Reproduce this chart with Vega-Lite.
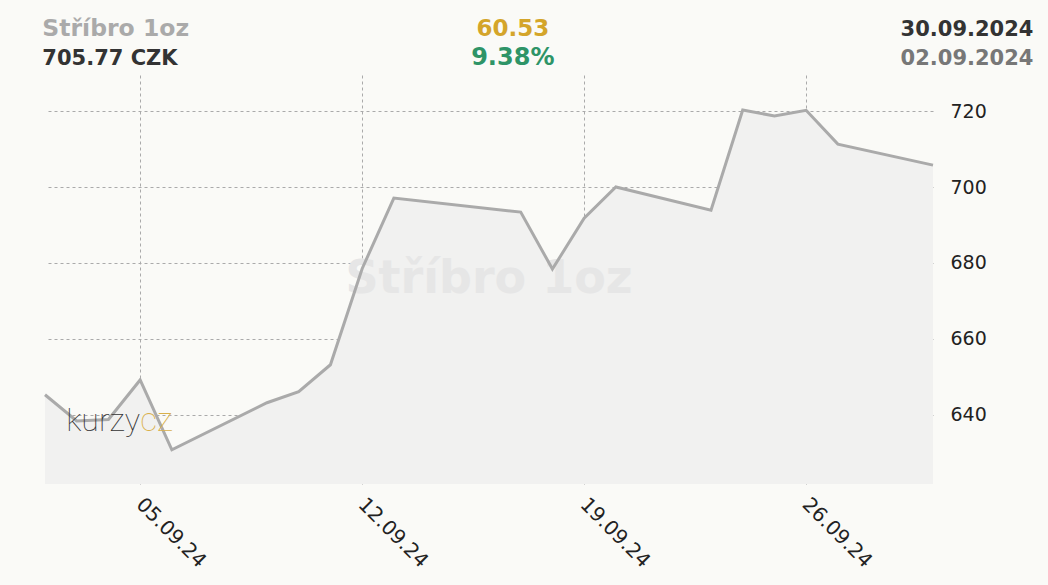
{
  "$schema": "https://vega.github.io/schema/vega-lite/v6.json",
  "width": 888,
  "height": 409,
  "autosize": {"type": "none"},
  "padding": {"left": 45, "top": 75, "right": 115, "bottom": 101},
  "background": "#fafaf7",
  "config": {
    "view": {"stroke": null},
    "font": "DejaVu Sans",
    "axis": {"labelFont": "DejaVu Sans", "labelColor": "#222", "labelFontSize": 19, "domain": false, "ticks": false, "grid": true, "gridColor": "#aaaaaa", "gridDash": [3, 3], "gridWidth": 1, "title": null}
  },
  "data": {"values": [{}]},
  "datasets": {
    "prices": [
      {"date": "2024-09-02", "price": 645.3},
      {"date": "2024-09-03", "price": 638.4},
      {"date": "2024-09-04", "price": 638.8},
      {"date": "2024-09-05", "price": 649.2},
      {"date": "2024-09-06", "price": 630.8},
      {"date": "2024-09-09", "price": 643.2},
      {"date": "2024-09-10", "price": 646.1},
      {"date": "2024-09-11", "price": 653.2},
      {"date": "2024-09-12", "price": 678.5},
      {"date": "2024-09-13", "price": 697.1},
      {"date": "2024-09-17", "price": 693.4},
      {"date": "2024-09-18", "price": 678.4},
      {"date": "2024-09-19", "price": 691.8},
      {"date": "2024-09-20", "price": 700.0},
      {"date": "2024-09-23", "price": 693.9},
      {"date": "2024-09-24", "price": 720.3},
      {"date": "2024-09-25", "price": 718.7},
      {"date": "2024-09-26", "price": 720.2},
      {"date": "2024-09-27", "price": 711.3},
      {"date": "2024-09-30", "price": 705.77}
    ]
  },
  "layer": [
    {
      "data": {"name": "prices"},
      "mark": {"type": "area", "color": "#f1f1f0"},
      "encoding": {
        "x": {"field": "date", "type": "temporal",
          "scale": {"type": "utc", "domain": [{"year": 2024, "month": 9, "date": 2, "utc": true}, {"year": 2024, "month": 9, "date": 30, "utc": true}]},
          "axis": {"orient": "bottom", "format": "%d.%m.%y", "labelAngle": 45, "labelPadding": 10, "labelOffset": 6, "labelFontSize": 20,
            "values": [{"year": 2024, "month": 9, "date": 5, "utc": true}, {"year": 2024, "month": 9, "date": 12, "utc": true}, {"year": 2024, "month": 9, "date": 19, "utc": true}, {"year": 2024, "month": 9, "date": 26, "utc": true}]}},
        "y": {"field": "price", "type": "quantitative",
          "scale": {"domain": [621.8, 729.5], "zero": false, "nice": false},
          "axis": {"orient": "right", "values": [640, 660, 680, 700, 720], "labelPadding": 17}},
        "y2": {"datum": 621.8}
      }
    },
    {
      "mark": {"type": "text", "text": "Stříbro 1oz", "font": "DejaVu Sans", "fontWeight": "bold", "fontSize": 46, "color": "#e6e6e6", "align": "center", "baseline": "middle"},
      "encoding": {
        "x": {"datum": {"year": 2024, "month": 9, "date": 16, "utc": true}, "type": "temporal"},
        "y": {"datum": 675.7, "type": "quantitative"}
      }
    },
    {
      "data": {"name": "prices"},
      "mark": {"type": "line", "color": "#aaaaaa", "strokeWidth": 3},
      "encoding": {
        "x": {"field": "date", "type": "temporal"},
        "y": {"field": "price", "type": "quantitative"}
      }
    },
    {
      "mark": {"type": "text", "text": "kurzy", "font": "Roboto", "fontWeight": 100, "fontSize": 32, "color": "#333333", "align": "right", "baseline": "alphabetic"},
      "encoding": {
        "x": {"datum": {"year": 2024, "month": 9, "date": 5, "utc": true}, "type": "temporal"},
        "y": {"datum": 635.8, "type": "quantitative"}
      }
    },
    {
      "mark": {"type": "text", "text": "cz", "font": "Roboto", "fontWeight": 100, "fontSize": 33, "color": "#d9b04a", "align": "left", "baseline": "alphabetic"},
      "encoding": {
        "x": {"datum": {"year": 2024, "month": 9, "date": 5, "utc": true}, "type": "temporal"},
        "y": {"datum": 635.8, "type": "quantitative"}
      }
    },
    {
      "mark": {"type": "text", "text": "Stříbro 1oz", "fontWeight": "bold", "fontSize": 23.5, "color": "#aaaaaa", "align": "left", "baseline": "alphabetic"},
      "encoding": {
        "x": {"datum": {"year": 2024, "month": 9, "date": 1, "hours": 22, "utc": true}, "type": "temporal"},
        "y": {"datum": 739.7, "type": "quantitative"}
      }
    },
    {
      "mark": {"type": "text", "text": "705.77 CZK", "fontWeight": "bold", "fontSize": 21, "color": "#333333", "align": "left", "baseline": "alphabetic"},
      "encoding": {
        "x": {"datum": {"year": 2024, "month": 9, "date": 1, "hours": 22, "utc": true}, "type": "temporal"},
        "y": {"datum": 732.1, "type": "quantitative"}
      }
    },
    {
      "mark": {"type": "text", "text": "60.53", "fontWeight": "bold", "fontSize": 23, "color": "#d4a52a", "align": "center", "baseline": "alphabetic"},
      "encoding": {
        "x": {"datum": {"year": 2024, "month": 9, "date": 16, "hours": 18, "utc": true}, "type": "temporal"},
        "y": {"datum": 739.7, "type": "quantitative"}
      }
    },
    {
      "mark": {"type": "text", "text": "9.38%", "fontWeight": "bold", "fontSize": 24, "color": "#2e9467", "align": "center", "baseline": "alphabetic"},
      "encoding": {
        "x": {"datum": {"year": 2024, "month": 9, "date": 16, "hours": 18, "utc": true}, "type": "temporal"},
        "y": {"datum": 732.1, "type": "quantitative"}
      }
    },
    {
      "mark": {"type": "text", "text": "30.09.2024", "fontWeight": "bold", "fontSize": 21, "color": "#333333", "align": "right", "baseline": "alphabetic"},
      "encoding": {
        "x": {"datum": {"year": 2024, "month": 10, "date": 3, "hours": 4, "utc": true}, "type": "temporal"},
        "y": {"datum": 739.7, "type": "quantitative"}
      }
    },
    {
      "mark": {"type": "text", "text": "02.09.2024", "fontWeight": "bold", "fontSize": 21, "color": "#777777", "align": "right", "baseline": "alphabetic"},
      "encoding": {
        "x": {"datum": {"year": 2024, "month": 10, "date": 3, "hours": 4, "utc": true}, "type": "temporal"},
        "y": {"datum": 732.1, "type": "quantitative"}
      }
    }
  ]
}
